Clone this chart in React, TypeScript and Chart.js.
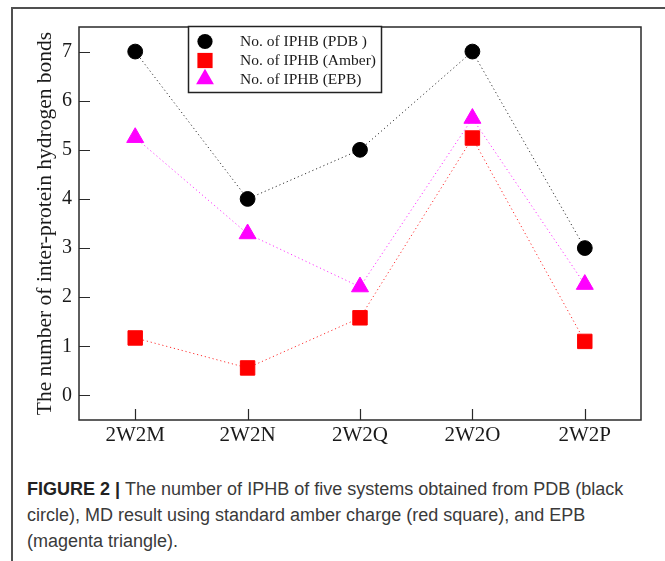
import React, { useEffect, useRef } from "react";
import { Chart, registerables } from "chart.js";

Chart.register(...registerables);

const categories = ["2W2M", "2W2N", "2W2Q", "2W2O", "2W2P"];
const pdbValues = [7, 4, 5, 7, 3];
const amberValues = [1.17, 0.56, 1.58, 5.24, 1.1];
const epbValues = [5.25, 3.29, 2.21, 5.64, 2.26];
const yTickValues = [0, 1, 2, 3, 4, 5, 6, 7];
const seriesLabels = ["No. of IPHB (PDB )", "No. of IPHB (Amber)", "No. of IPHB (EPB)"];
const yTitle = "The number of inter-protein hydrogen bonds";

const SERIF = "'Liberation Serif', 'Times New Roman', serif";

const frameAndTicks = {
  id: "frameAndTicks",
  afterDatasetsDraw(chart: any) {
    const { ctx, chartArea, scales } = chart;
    const { left, right, top, bottom } = chartArea;
    ctx.save();
    ctx.strokeStyle = "#2a2a2a";
    ctx.lineWidth = 1.5;
    ctx.strokeRect(left, top, right - left, bottom - top);
    ctx.lineWidth = 1.2;
    ctx.beginPath();
    scales.y.ticks.forEach((t: any) => {
      const y = Math.round(scales.y.getPixelForValue(t.value)) + 0.5;
      ctx.moveTo(left, y);
      ctx.lineTo(left + 11, y);
    });
    categories.forEach((_, i) => {
      const x = Math.round(scales.x.getPixelForValue(i)) + 0.5;
      ctx.moveTo(x, bottom);
      ctx.lineTo(x, bottom - 11);
    });
    ctx.stroke();
    ctx.restore();
  },
};

const legendBox = {
  id: "legendBox",
  afterDraw(chart: any) {
    const { ctx, chartArea } = chart;
    const bx = chartArea.left + 109.5;
    const by = chartArea.top - 0.5;
    const bw = 193;
    const bh = 66;
    ctx.save();
    ctx.fillStyle = "#ffffff";
    ctx.fillRect(bx, by, bw, bh);
    ctx.strokeStyle = "#222";
    ctx.lineWidth = 1.5;
    ctx.strokeRect(bx, by, bw, bh);
    const rows = [15, 34, 52.6];
    const mx = bx + 16.5;
    chart.data.datasets.forEach((ds: any, i: number) => {
      const cy = by + rows[i];
      ctx.fillStyle = ds.pointBackgroundColor;
      ctx.beginPath();
      if (ds.pointStyle === "circle") {
        ctx.arc(mx, cy, 7.6, 0, Math.PI * 2);
      } else if (ds.pointStyle === "rect") {
        ctx.rect(mx - 7.6, cy - 7.6, 15.2, 15.2);
      } else {
        const r = 10.3;
        ctx.moveTo(mx, cy - r);
        ctx.lineTo(mx + r * Math.sqrt(3) / 2, cy + r / 2);
        ctx.lineTo(mx - r * Math.sqrt(3) / 2, cy + r / 2);
        ctx.closePath();
      }
      ctx.fill();
      ctx.fillStyle = "#1a1a1a";
      ctx.font = `15.5px ${SERIF}`;
      ctx.textBaseline = "middle";
      ctx.textAlign = "left";
      ctx.fillText(ds.label, bx + 51.5, cy + 0.5);
    });
    ctx.restore();
  },
};

function ChartCanvas() {
  const ref = useRef<HTMLCanvasElement | null>(null);
  useEffect(() => {
    if (!ref.current) return;
    const mk = (label: string, data: number[], color: string, line: string, style: string, r: number) => ({
      label,
      data,
      borderColor: line,
      backgroundColor: color,
      pointBackgroundColor: color,
      pointBorderColor: color,
      pointBorderWidth: 1,
      pointStyle: style,
      pointRadius: r,
      pointHoverRadius: r,
      borderWidth: 1,
      borderDash: [1.2, 2.8],
      tension: 0,
      fill: false,
    });
    const chart = new Chart(ref.current, {
      type: "line",
      data: {
        labels: categories,
        datasets: [
          mk(seriesLabels[0], pdbValues, "#000000", "#333333", "circle", 7.4),
          mk(seriesLabels[1], amberValues, "#ff0000", "#ff3030", "rect", 10.2),
          mk(seriesLabels[2], epbValues, "#ff00ff", "#ff33ff", "triangle", 9.8),
        ],
      },
      options: {
        responsive: false,
        animation: false,
        events: [],
        layout: { padding: { top: 27, right: 24, left: 0, bottom: 0 } },
        plugins: {
          legend: { display: false },
          tooltip: { enabled: false },
          title: { display: false },
        },
        scales: {
          x: {
            type: "category",
            offset: true,
            grid: { display: false, drawTicks: false },
            border: { display: false },
            ticks: {
              color: "#1a1a1a",
              font: { family: SERIF, size: 21 },
              padding: 3,
              maxRotation: 0,
              autoSkip: false,
            },
            afterFit(scale: any) {
              scale.height = 40;
            },
          },
          y: {
            type: "linear",
            min: -0.5,
            max: 7.5,
            grid: { display: false, drawTicks: false },
            border: { display: false },
            afterBuildTicks(scale: any) {
              scale.ticks = yTickValues.map((v) => ({ value: v }));
            },
            ticks: {
              color: "#1a1a1a",
              font: { family: SERIF, size: 20 },
              padding: 7,
            },
            title: {
              display: true,
              text: yTitle,
              color: "#1a1a1a",
              font: { family: SERIF, size: 21.5, weight: "normal" },
              padding: { top: 32, bottom: 0 },
            },
            afterFit(scale: any) {
              scale.width = 79;
            },
          },
        },
      },
      plugins: [frameAndTicks, legendBox],
    } as any);
    return () => chart.destroy();
  }, []);
  return <canvas ref={ref} width={665} height={460} style={{ position: "absolute", left: 0, top: 0, width: 665, height: 460 }} />;
}

export default function App() {
  return (
    <div style={{ position: "absolute", left: 0, top: 0, width: 665, height: 561, background: "#fff", overflow: "hidden" }}>
      <div
        style={{
          position: "absolute",
          left: 11,
          top: 7,
          width: 670,
          height: 570,
          borderTop: "2px solid #505050",
          borderLeft: "2px solid #505050",
        }}
      />
      <ChartCanvas />
      <div
        style={{
          position: "absolute",
          left: 27,
          top: 476,
          width: 636,
          fontFamily: "'Liberation Sans', Arial, sans-serif",
          fontSize: 18,
          lineHeight: "26px",
          color: "#3a3a3a",
          whiteSpace: "nowrap",
        }}
      >
        <span style={{ fontWeight: "bold", color: "#222" }}>FIGURE 2 | </span>
        The number of IPHB of five systems obtained from PDB (black
        <br />
        circle), MD result using standard amber charge (red square), and EPB
        <br />
        (magenta triangle).
      </div>
    </div>
  );
}
